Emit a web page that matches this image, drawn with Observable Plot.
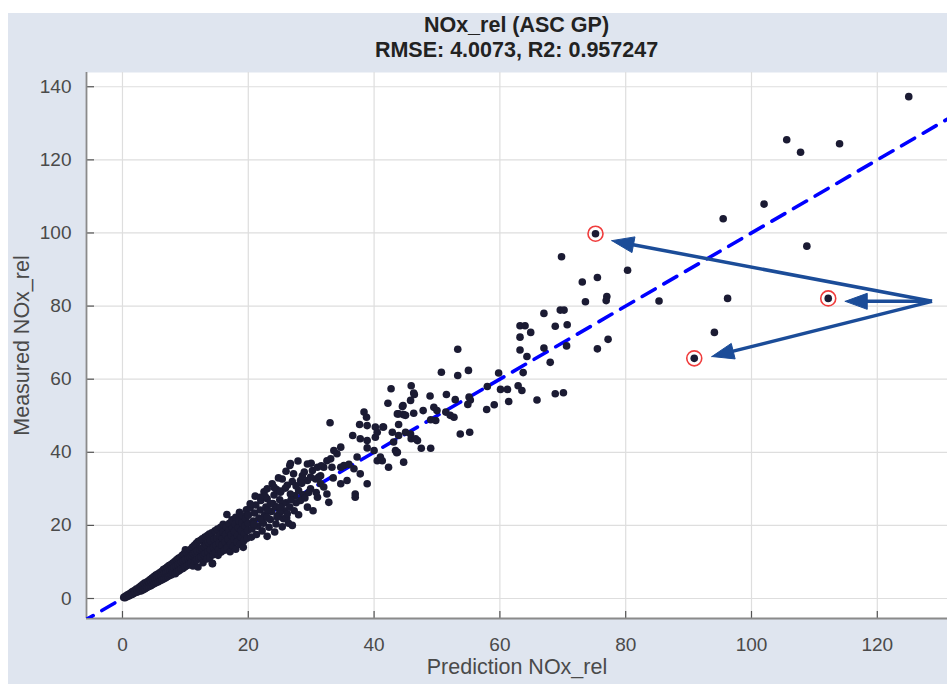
<!DOCTYPE html>
<html>
<head>
<meta charset="utf-8">
<script src="https://cdn.jsdelivr.net/npm/d3@7"></script>
<script src="https://cdn.jsdelivr.net/npm/@observablehq/plot@0.6"></script>
<style>
  html, body { margin: 0; padding: 0; background: #ffffff; }
  #fig { position: absolute; left: 8px; top: 13px; width: 939px; height: 671px; background: #dfe5ef; overflow: hidden; }
  #chart { position: absolute; left: -8px; top: 0; }
  .ttl { position: absolute; left: 78px; width: 861px; text-align: center; font-family: "Liberation Sans", Arial, sans-serif; font-weight: bold; font-size: 21.5px; color: #222; line-height: 22px; }
</style>
</head>
<body>
<div id="fig">
  <div class="ttl" style="top:1px">NOx_rel (ASC GP)</div>
  <div class="ttl" style="top:26px">RMSE: 4.0073, R2: 0.957247</div>
  <div id="chart"></div>
</div>
<script>
// ---- data ----
const titleLine1 = "NOx_rel (ASC GP)";
const titleLine2 = "RMSE: 4.0073, R2: 0.957247";
const xLabel = "Prediction NOx_rel";
const yLabel = "Measured NOx_rel";
const xTicks = [0, 20, 40, 60, 80, 100, 120];
const yTicks = [0, 20, 40, 60, 80, 100, 120, 140];
const xDomain = [-5.72, 131.16];
const yDomain = [-5.47, 143.9];

// [prediction, measured]
const denseCluster = [
  [0.2,0.3],[0.4,0.2],[0.5,0.7],[0.7,0.5],[0.8,1.0],[1.0,0.7],[1.1,1.3],[1.2,0.9],[1.4,1.6],[1.5,1.1],[1.6,1.9],[1.7,1.3],[1.9,2.2],[1.9,1.5],[2.0,1.8],
  [2.2,2.6],[2.3,1.7],[2.4,2.2],[2.6,3.0],[2.6,2.0],[2.8,2.5],[2.9,3.4],[3.0,2.1],[3.1,2.9],[3.2,3.8],[3.3,2.4],[3.4,3.3],[3.5,4.2],[3.6,2.7],[3.7,3.6],[3.8,4.4],[3.9,3.0],[4.0,4.0],
  [4.1,4.8],[4.2,3.3],[4.3,4.3],[4.4,5.2],[4.5,3.5],[4.6,4.6],[4.7,5.6],[4.8,3.8],[4.9,5.0],[5.0,6.0],[5.1,4.1],[5.2,5.3],[5.3,6.4],[5.4,4.4],[5.5,5.6],[5.6,6.7],[5.7,4.6],[5.8,5.9],[5.9,7.0],[6.0,4.9],
  [6.1,6.2],[6.2,7.4],[6.3,5.1],[6.4,6.6],[6.5,7.9],[6.6,5.4],[6.7,6.9],[6.8,8.2],[6.9,5.7],[7.0,7.2],[7.1,8.6],[7.2,6.0],[7.3,7.5],[7.4,9.0],[7.5,6.3],[7.6,7.8],[7.7,9.3],[7.8,6.5],[7.9,8.1],[8.0,9.7],[8.0,7.1],
  [8.2,8.5],[8.3,10.1],[8.4,6.8],[8.5,8.9],[8.6,10.6],[8.7,7.3],[8.8,9.2],[8.9,11.0],[9.0,7.6],[9.1,9.6],[9.2,11.3],[9.3,8.0],[9.4,10.0],[9.5,11.8],[9.6,8.2],[9.7,10.3],[9.8,12.2],[9.9,8.6],[10.0,10.7],[10.0,13.3],
  [10.2,12.5],[10.3,9.0],[10.4,11.1],[10.5,13.0],[10.6,9.3],[10.7,11.4],[10.8,13.4],[10.9,9.7],[11.0,11.8],[11.1,14.0],[11.2,8.9],[11.3,12.2],[11.4,14.5],[11.5,10.2],[11.6,12.6],[11.7,15.0],[11.8,10.6],[11.9,13.0],[12.0,15.6],[12.0,8.6],
  [12.2,11.0],[12.3,13.4],[12.4,15.9],[12.5,11.4],[12.6,13.8],[12.7,16.3],[12.8,9.8],[12.9,12.0],[13.0,14.3],[13.1,16.8],[13.2,12.3],[13.3,14.7],[13.4,10.8],[13.5,17.2],[13.6,12.8],[13.7,15.2],[13.8,17.6],[13.9,11.3],[14.0,13.4],[14.0,15.7],
  [14.2,18.0],[14.3,9.6],[14.4,12.0],[14.5,14.0],[14.6,16.2],[14.7,18.5],[14.8,12.6],[14.9,14.5],[15.0,16.6],[15.1,19.0],[15.2,11.8],[15.3,13.4],[15.4,15.2],[15.5,17.2],[15.6,19.5],[15.7,12.7],[15.8,14.6],[15.9,16.5],[16.0,18.2],[16.0,20.3],
  [16.2,13.2],[16.3,15.4],[16.4,17.5],[16.5,19.6],[16.6,23.0],[16.7,14.0],[16.8,16.3],[16.9,18.5],[17.0,20.6],[17.1,12.8],[17.2,15.0],[17.3,17.4],[17.4,21.5],[17.5,19.3],[17.6,14.2],[17.7,16.2],[17.8,18.3],[17.9,20.3],[18.0,22.2],[18.0,13.5],
  [18.2,15.5],[18.3,17.3],[18.4,19.4],[18.5,21.3],[18.6,23.6],[18.7,14.8],[18.8,16.8],[18.9,18.6],[19.0,20.6],[19.1,22.6],[19.2,14.0],[19.3,15.8],[19.4,17.8],[19.5,19.8],[19.6,21.8],[19.7,24.3],[19.8,16.5],[19.9,18.6],[20.0,20.6],[20.0,22.8],
  [20.3,24.8],[20.5,16.8],[20.6,19.0],[20.8,21.2],[21.0,23.4],[21.2,25.6],[21.3,17.5],[21.5,19.8],[21.7,22.0],[21.9,24.2],[22.0,26.8],[22.2,18.5],[22.4,20.6],[22.6,22.8],[22.8,25.0],[23.0,27.3],[23.0,17.0],
  [23.3,19.5],[23.5,21.6],[23.7,23.8],[23.9,26.0],[24.1,28.3],[24.2,18.2],[24.4,20.4],[24.6,22.6],[24.8,24.8],[25.0,27.0],[25.2,29.4],[25.4,19.6],[25.6,21.8],[25.8,24.0],[26.0,26.2],[26.2,31.0],[26.4,20.6],
  [14.3,9.5],[27.0,20.0],
  [21.1,28.0],[22.5,29.2],[23.8,31.4],[20.9,20.3],[22.1,21.5],[23.1,24.1],[24.3,25.2],[25.5,26.0],[26.6,25.0],[27.4,28.1],[22.7,27.9],[24.5,29.8],[25.9,30.2],[27.6,26.2],[28.7,28.4],[25.0,23.4],[26.1,22.0]
];

const midCluster = [
  [33.0,48.1],[46.4,55.8],[44.6,52.8],[43.7,50.5],[44.7,50.3],[46.3,50.7],[38.4,51.0],[38.8,49.6],[37.7,47.6],[38.9,47.3],[40.2,46.9],[41.4,46.9],
  [36.6,44.6],[37.8,43.7],[38.9,43.2],[40.2,44.1],[40.5,45.5],[43.9,44.6],[45.9,43.7],[46.9,43.2],[43.4,40.5],[44.7,37.3],[42.3,35.9],[40.5,37.7],
  [38.9,41.2],[40.0,40.5],[37.3,38.7],[34.7,41.4],[34.1,39.6],[33.1,38.2],[33.3,35.9],[34.7,35.9],[35.2,36.4],[36.0,36.7],[36.8,35.5],[37.8,34.1],
  [38.9,31.4],[37.0,28.6],[37.0,27.7],[35.7,32.3],[34.7,31.4],[32.8,26.3],[31.5,33.6],[32.0,35.9],[32.5,37.7],[27.9,37.6],[26.6,36.4],[29.4,36.8],
  [30.2,35.0],[25.4,32.7],[27.2,34.1],[28.6,33.6],[29.4,32.3],[30.7,32.7],[31.5,31.4],[24.1,30.4],[23.0,30.0],[25.1,29.1],[26.7,28.6],[28.0,29.5],
  [29.9,30.0],[28.3,26.8],[29.4,25.0],[31.0,27.7],[32.5,28.6],[21.9,27.7],[20.3,25.9],[23.5,25.9],[25.1,25.0],[26.2,23.2],[24.6,22.2],[23.0,22.2],
  [41.3,37.7],[43.7,40.0],[33.6,40.5],[31.0,35.9],[29.9,33.2],[28.3,32.3],[26.7,36.9],
  [26.8,27.0],[27.3,24.0],[27.6,30.8],[28.0,22.9],[28.5,31.5],[29.0,27.5],[29.6,29.0],[30.3,24.0],[30.8,29.0],[31.2,33.2],[27.0,32.0],[28.9,34.6],
  [26.0,34.8],[24.8,33.0],[32.0,30.5],[33.5,33.0],[30.0,37.0],[31.6,36.3],
  [53.3,68.2],[50.7,61.9],[53.3,61.0],[55.0,62.4],[58.0,58.0],[60.1,57.2],[61.2,57.2],[62.9,58.2],[63.5,56.9],[61.4,53.9],[65.9,54.3],[68.8,56.0],
  [70.1,56.3],[59.1,53.0],[57.9,51.7],[55.1,55.1],[55.3,54.3],[54.9,53.1],[52.9,54.4],[51.5,55.8],[48.9,55.4],[45.9,58.2],[46.3,56.2],[42.7,57.4],
  [42.2,53.4],[44.5,52.5],[45.8,54.2],[43.9,50.5],[45.0,50.1],[47.8,51.4],[49.5,52.3],[50.0,51.4],[51.4,51.0],[52.1,50.1],[52.7,49.6],[49.0,48.9],
  [49.8,48.7],[41.5,46.9],[42.9,45.5],[43.9,47.6],[45.0,45.5],[45.8,45.0],[46.6,43.7],[43.1,42.8],[53.7,45.0],[55.2,45.5],[47.5,41.1],[49.0,41.1],
  [43.6,39.9],[41.0,38.7]
];

const highCluster = [
  [125.0,137.3],[105.6,125.5],[107.8,122.1],[114.0,124.4],[102.0,107.9],[95.5,103.9],[108.8,96.4],[75.2,99.8],[69.8,93.5],[80.3,89.8],
  [73.1,86.6],[75.5,87.8],[77.0,82.6],[76.9,81.5],[73.6,81.2],[85.3,81.4],[96.2,82.1],[112.2,82.1],[67.0,78.0],[69.6,78.9],[70.2,78.9],
  [63.2,74.6],[64.0,74.6],[64.9,72.8],[68.8,74.5],[70.7,74.9],[63.2,71.5],[94.1,72.8],[63.2,68.0],[67.0,68.5],[70.6,69.1],[77.2,70.9],
  [64.3,66.2],[75.5,68.3],[68.0,64.6],[90.9,65.7],[63.7,61.8],[59.8,61.7]
];

const circled = [[75.2,99.8],[112.2,82.1],[90.9,65.7]];
const arrowStart = [128.7, 81.3];
const arrowTargets = [[77.8,97.9],[114.9,81.3],[93.7,66.2]];

// ---- layout ----
const W = 947, H = 671, mL = 86, mR = 0, mT = 59, mB = 66;
const plotW = W - mL - mR, plotH = H - mT - mB;
const sx = v => mL + (v - xDomain[0]) / (xDomain[1] - xDomain[0]) * plotW;
const sy = v => (H - mB) - (v - yDomain[0]) / (yDomain[1] - yDomain[0]) * plotH;
const ix = p => xDomain[0] + (p - mL) / plotW * (xDomain[1] - xDomain[0]);
const iy = p => yDomain[0] + ((H - mB) - p) / plotH * (yDomain[1] - yDomain[0]);

// arrow shafts and filled heads, built from the arrow endpoints
const headLen = 22, headHalf = 8;
const shafts = [], heads = [];
arrowTargets.forEach((t, i) => {
  const S = [sx(arrowStart[0]), sy(arrowStart[1])];
  const T = [sx(t[0]), sy(t[1])];
  const dx = T[0] - S[0], dy = T[1] - S[1];
  const len = Math.hypot(dx, dy);
  const u = [dx / len, dy / len], n = [-u[1], u[0]];
  const B = [T[0] - u[0] * headLen, T[1] - u[1] * headLen];
  const B2 = [B[0] + u[0] * 3, B[1] + u[1] * 3];
  shafts.push({x1: arrowStart[0], y1: arrowStart[1], x2: ix(B2[0]), y2: iy(B2[1])});
  const pts = [T, [B[0] + n[0] * headHalf, B[1] + n[1] * headHalf], [B[0] - n[0] * headHalf, B[1] - n[1] * headHalf], T];
  pts.forEach(p => heads.push({k: i, x: ix(p[0]), y: iy(p[1])}));
});

const allPoints = denseCluster.concat(midCluster, highCluster);
const identity = [xDomain[0] - 1, xDomain[1] + 1];
const font = '"Liberation Sans", Arial, Helvetica, sans-serif';
const arrowColor = "#1b4c98";

const chart = Plot.plot({
  width: W, height: H,
  marginLeft: mL, marginRight: mR, marginTop: mT, marginBottom: mB,
  style: {fontFamily: font, fontSize: "19px", color: "#4a4a4a", background: "transparent", overflow: "visible"},
  x: {domain: xDomain, ticks: xTicks, tickSize: 0, tickPadding: 19, label: null, tickFormat: d => String(d)},
  y: {domain: yDomain, ticks: yTicks, tickSize: 0, tickPadding: 15, label: null, tickFormat: d => String(d)},
  marks: [
    Plot.frame({fill: "white", stroke: "none"}),
    Plot.ruleX(xTicks, {stroke: "#dedede", strokeWidth: 1.2}),
    Plot.ruleY(yTicks, {stroke: "#dedede", strokeWidth: 1.2}),
    Plot.tickX(xTicks, {x: d => d, insetTop: plotH - 7, stroke: "#555", strokeWidth: 1.2}),
    Plot.tickY(yTicks, {y: d => d, insetRight: plotW - 8, stroke: "#555", strokeWidth: 1.2}),
    Plot.ruleX([xDomain[0]], {stroke: "#8a8a8a", strokeWidth: 1.8}),
    Plot.ruleY([yDomain[0]], {stroke: "#8a8a8a", strokeWidth: 1.8}),
    Plot.line(identity, {x: d => d, y: d => d, stroke: "#0000ff", strokeWidth: 3.6, strokeDasharray: "15,10", clip: true}),
    Plot.dot(allPoints, {x: d => d[0], y: d => d[1], r: 3.8, fill: "#1b1b33", stroke: "none"}),
    Plot.dot(circled, {x: d => d[0], y: d => d[1], r: 7.5, stroke: "#f03c3c", strokeWidth: 1.6, fill: "none"}),
    Plot.link(shafts, {x1: "x1", y1: "y1", x2: "x2", y2: "y2", stroke: arrowColor, strokeWidth: 3.5}),
    Plot.line(heads, {x: "x", y: "y", z: "k", fill: arrowColor, stroke: arrowColor, strokeWidth: 1, strokeLinejoin: "miter"}),
    Plot.text([xLabel], {frameAnchor: "bottom", dy: 55, text: d => d, fontSize: 21.5, fill: "#4a4a4a"}),
    Plot.text([yLabel], {frameAnchor: "left", dx: -64, rotate: -90, textAnchor: "middle", text: d => d, fontSize: 21.5, fill: "#4a4a4a"})
  ]
});
document.getElementById("chart").appendChild(chart);
</script>
</body>
</html>
